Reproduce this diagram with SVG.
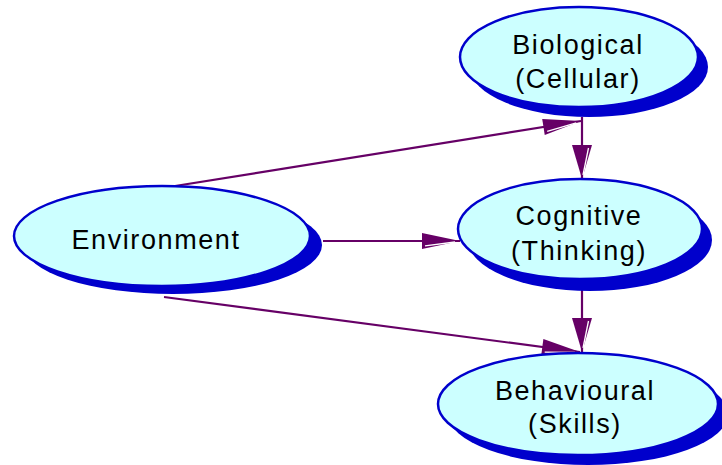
<svg xmlns="http://www.w3.org/2000/svg" width="722" height="465" viewBox="0 0 722 465">
<style>
.node ellipse.main{fill:#CCFFFF;stroke:#0000CC;stroke-width:2.5}
.node ellipse.shadow{fill:#0000CC;stroke:none}
.node text{font-family:"Liberation Sans",Arial,sans-serif;font-size:27px;letter-spacing:1.6px;fill:#000;text-anchor:middle}
.edge{stroke:#660066;stroke-width:2.2;fill:none}
</style>
<defs>
<marker id="arrA" markerUnits="userSpaceOnUse" viewBox="-40 -10 42 20" refX="0" refY="0" markerWidth="42" markerHeight="20" orient="auto">
<path d="M0,0 L-38,-8 L-38,8 Z" fill="#660066"/>
<path d="M-35,4.8 L-5,1" stroke="#fff" stroke-width="1.3"/>
</marker>
<marker id="arrB" markerUnits="userSpaceOnUse" viewBox="-40 -10 42 20" refX="0" refY="0" markerWidth="42" markerHeight="20" orient="auto">
<path d="M0,0 L-34,-10 L-34,10 Z" fill="#660066"/>
<path d="M-31,-6.5 L-4,-1" stroke="#fff" stroke-width="1.3"/>
</marker>
</defs>
<g id="connectors">
<line class="edge" x1="175" y1="186" x2="581" y2="121" marker-end="url(#arrA)"/>
<line class="edge" x1="582" y1="117" x2="582" y2="179" marker-end="url(#arrB)"/>
<line class="edge" x1="323" y1="241" x2="460" y2="241" marker-end="url(#arrA)"/>
<line class="edge" x1="582" y1="290" x2="582" y2="352" marker-end="url(#arrB)"/>
<line class="edge" x1="164" y1="297" x2="580" y2="352" marker-end="url(#arrA)"/>
</g>
<g id="biological" class="node">
<ellipse class="shadow" cx="589" cy="67" rx="119" ry="50"/>
<ellipse class="main" cx="579" cy="57" rx="119" ry="50"/>
<text x="578" y="54">Biological</text>
<text x="578" y="88">(Cellular)</text>
</g>
<g id="cognitive" class="node">
<ellipse class="shadow" cx="590" cy="240" rx="122" ry="51"/>
<ellipse class="main" cx="580" cy="229" rx="122" ry="50"/>
<text x="579" y="225">Cognitive</text>
<text x="579" y="260">(Thinking)</text>
</g>
<g id="environment" class="node">
<ellipse class="shadow" cx="173" cy="245" rx="149" ry="49"/>
<ellipse class="main" cx="162" cy="236" rx="148" ry="50"/>
<text x="156" y="249">Environment</text>
</g>
<g id="behavioural" class="node">
<ellipse class="shadow" cx="588" cy="414" rx="140" ry="51"/>
<ellipse class="main" cx="578" cy="404" rx="140" ry="51"/>
<text x="575" y="400">Behavioural</text>
<text x="575" y="433">(Skills)</text>
</g>
</svg>
